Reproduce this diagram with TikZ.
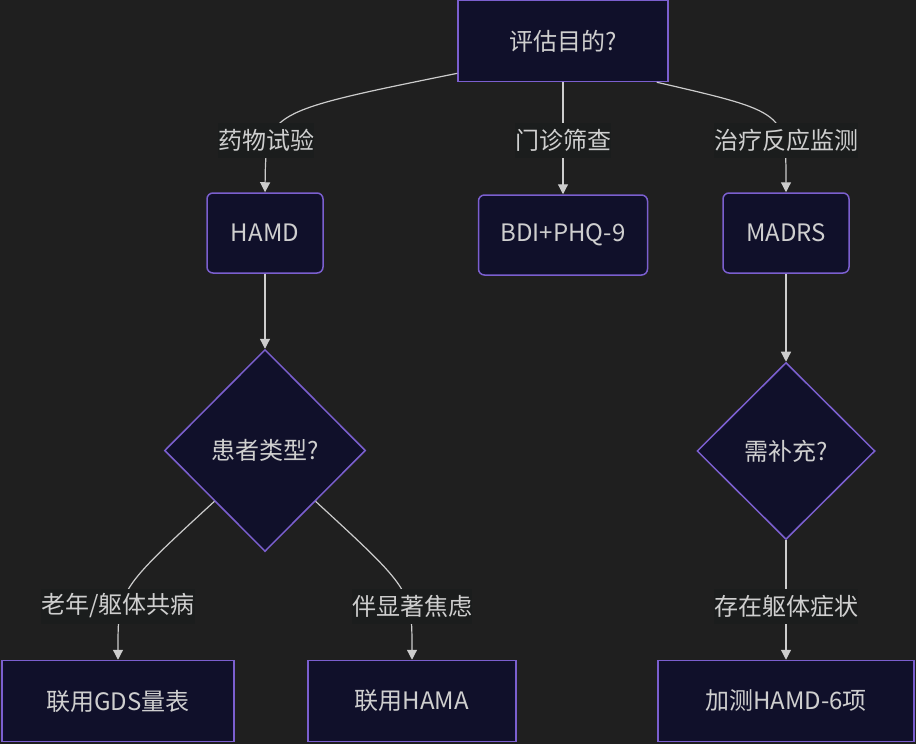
\documentclass[tikz,border=0pt]{standalone}
\usepackage{fontspec}
\setmainfont{Noto Sans CJK SC}
\usetikzlibrary{positioning,shapes.geometric,arrows.meta}

\definecolor{bgcolor}{HTML}{1F1F1F}
\definecolor{nodefill}{HTML}{10102A}
\definecolor{nodeline}{HTML}{7B5FCF}
\definecolor{fgtext}{HTML}{CFCFCF}
\definecolor{edgeline}{HTML}{CCCCCC}
\definecolor{labelfill}{HTML}{1B1D1D}

\begin{document}
\begin{tikzpicture}[x=1pt,y=-1pt,
 every node/.style={font=\fontsize{24}{28}\selectfont,text=fgtext},
 box/.style={draw=nodeline,fill=nodefill,line width=1.5pt,inner sep=0pt,minimum height=81pt},
 round box/.style={box,rounded corners=6pt,minimum height=80pt},
 choice/.style={diamond,draw=nodeline,fill=nodefill,line width=1.5pt,inner sep=0pt},
 edge/.style={draw=edgeline,line width=1.2pt,-{Triangle[width=10pt,length=10pt]}},
 edge label/.style={fill=labelfill,inner sep=0pt,minimum height=35pt}]

  \useasboundingbox[fill=bgcolor] (0,0) rectangle (916,744);

  % nodes
  \node[box,minimum width=210pt] (goal) at (563,41) {评估目的?};
  \node[round box,minimum width=116pt] (hamd) at (265,233) {HAMD};
  \node[round box,minimum width=169pt] (bdi) [below=112pt of goal] {BDI+PHQ-9};
  \node[round box,minimum width=126pt] (madrs) at (786,233) {MADRS};
  \node[choice,minimum width=201pt,minimum height=202pt] (ptype) [below=75pt of hamd] {患者类型?};
  \node[choice,minimum width=178pt,minimum height=177pt] (extra) [below=88pt of madrs] {需补充?};
  \node[box,minimum width=232pt] (gds) at (118,701) {联用GDS量表};
  \node[box,minimum width=208pt] (hama) at (412,701) {联用HAMA};
  \node[box,minimum width=256pt] (hamdsix) at (786,701) {加测HAMD-6项};

  % connectors
  \draw[edge] (goal.197) .. controls (266,112) .. (hamd.north);
  \draw[edge] (goal) -- (bdi);
  \draw[edge] (goal.south east) ++(-12,0) .. controls (786,112) .. (madrs.north);
  \draw[edge] (hamd) -- (ptype);
  \draw[edge] (madrs) -- (extra);
  \draw[edge] (ptype.south west) .. controls (118,590) .. (gds.north);
  \draw[edge] (ptype.south east) .. controls (412,590) .. (hama.north);
  \draw[edge] (extra) -- (hamdsix);

  % edge labels
  \node[edge label] (trial) at (266,140) {药物试验};
  \node[edge label] (clinic) at (563,140) {门诊筛查};
  \node[edge label] (monitor) at (786,140) {治疗反应监测};
  \node[edge label] (elderly) at (118,606) {老年/躯体共病};
  \node[edge label] (anxiety) at (412,606) {伴显著焦虑};
  \node[edge label] (somatic) at (786,606) {存在躯体症状};
\end{tikzpicture}
\end{document}
